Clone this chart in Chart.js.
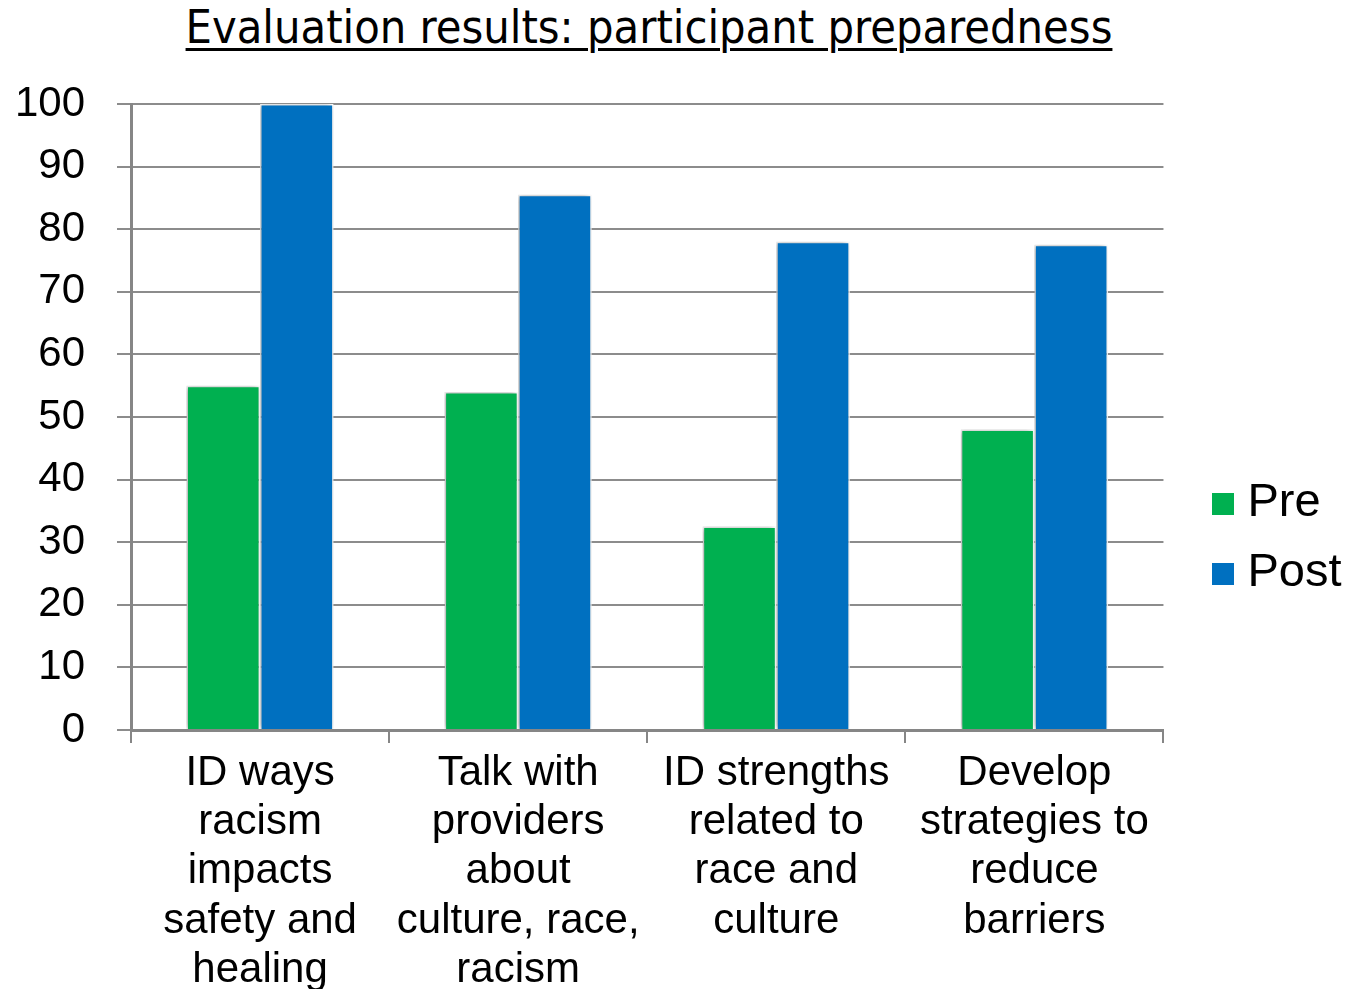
<!DOCTYPE html>
<html>
<head>
<meta charset="utf-8">
<script src="https://cdn.jsdelivr.net/npm/chart.js@4/dist/chart.umd.min.js"></script>
<style>
  html, body { margin: 0; padding: 0; background: #fff; overflow: hidden; }
  #wrap { position: relative; width: 1364px; height: 989px; }
  #title { position: absolute; left: 0; width: 1298px; top: 0px; text-align: center;
    font-family: "DejaVu Sans Condensed", "DejaVu Sans", sans-serif; font-size: 46.5px;
    text-decoration: underline; text-decoration-thickness: 3px; text-underline-offset: 5px; color: #000; }
  canvas#c { position: absolute; left: 0; top: 0; }
</style>
</head>
<body>
<div id="wrap">
  <div id="title">Evaluation results: participant preparedness</div>
  <canvas id="c" width="1364" height="989"></canvas>
</div>
<script>
const categories = [
  ["ID ways", "racism", "impacts", "safety and", "healing"],
  ["Talk with", "providers", "about", "culture, race,", "racism"],
  ["ID strengths", "related to", "race and", "culture"],
  ["Develop", "strategies to", "reduce", "barriers"]
];
const preValues = [55, 54, 32.5, 48];
const postValues = [100, 85.5, 78, 77.5];
const yTicks = [0, 10, 20, 30, 40, 50, 60, 70, 80, 90, 100];
const seriesColors = ['#00B050', '#0070C0'];

function makeSwatch(color) {
  const cv = document.createElement('canvas');
  cv.width = 22; cv.height = 22;
  const g = cv.getContext('2d');
  g.fillStyle = color; g.fillRect(0, 0, 22, 22);
  return cv;
}
const swatches = seriesColors.map(makeSwatch);

const shadowPlugin = {
  id: 'barShadow',
  beforeDatasetsDraw(chart) {
    const ctx = chart.ctx;
    ctx.save();
    ctx.shadowColor = 'rgba(0,0,0,0.35)';
    ctx.shadowBlur = 6;
    ctx.shadowOffsetX = -2;
    ctx.shadowOffsetY = 0;
  },
  afterDatasetsDraw(chart) { chart.ctx.restore(); }
};

const legendTweak = {
  id: 'legendTweak',
  afterInit(chart) {
    const lg = chart.legend;
    if (!lg) return;
    const origFit = lg.fit.bind(lg);
    lg.fit = function () { origFit(); this.width += 29; };
  },
  afterLayout(chart) {
    const lg = chart.legend;
    if (!lg) return;
    lg.left += 36.5; lg.right += 36.5;
    lg.top -= 8; lg.bottom -= 8;
  }
};

new Chart(document.getElementById('c'), {
  type: 'bar',
  data: {
    labels: categories,
    datasets: [
      { label: 'Pre', data: preValues, backgroundColor: seriesColors[0], borderColor: '#ffffff', borderWidth: 1.5 },
      { label: 'Post', data: postValues, backgroundColor: seriesColors[1], borderColor: '#ffffff', borderWidth: 1.5 }
    ]
  },
  options: {
    responsive: false,
    animation: false,
    devicePixelRatio: 1,
    layout: { padding: { top: 104, left: 0, right: 20, bottom: 0 } },
    datasets: { bar: { barPercentage: 1.0, categoryPercentage: 0.57 } },
    plugins: {
      title: { display: false },
      tooltip: { enabled: false },
      legend: {
        position: 'right',
        align: 'center',
        labels: {
          color: '#000',
          font: { family: '"Liberation Sans", Arial, sans-serif', size: 47 },
          usePointStyle: true,
          boxWidth: 1, boxHeight: 22, padding: 23,
          generateLabels(chart) {
            const items = Chart.defaults.plugins.legend.labels.generateLabels(chart);
            items.forEach((it, i) => { it.pointStyle = swatches[i]; });
            return items;
          }
        }
      }
    },
    scales: {
      x: {
        afterFit(scale) { scale.height = 259; },
        grid: { offset: true, drawOnChartArea: false, drawTicks: true, tickLength: 13, color: '#868686', lineWidth: 2 },
        border: { color: '#868686', width: 3 },
        ticks: {
          color: '#000', maxRotation: 0, autoSkip: false, padding: 6,
          font: { family: '"Liberation Sans", Arial, sans-serif', size: 42, lineHeight: 1.17 }
        }
      },
      y: {
        min: 0, max: 100,
        afterFit(scale) { scale.width = 131; },
        afterBuildTicks(scale) { scale.ticks = yTicks.map(v => ({ value: v })); },
        grid: { color: '#8c8c8c', lineWidth: 2, tickLength: 14 },
        border: { color: '#868686', width: 3 },
        ticks: {
          color: '#000', padding: 32,
          font: { family: '"Liberation Sans", Arial, sans-serif', size: 42 }
        }
      }
    }
  },
  plugins: [shadowPlugin, legendTweak]
});
</script>
</body>
</html>
